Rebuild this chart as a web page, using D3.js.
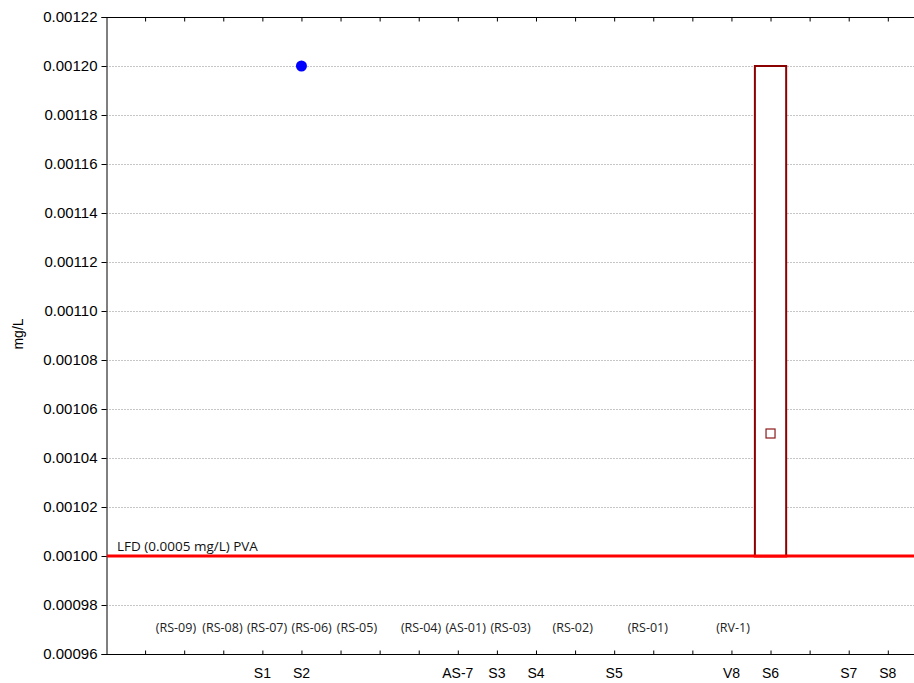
<!DOCTYPE html>
<html>
<head>
<meta charset="utf-8">
<script src="https://cdn.jsdelivr.net/npm/d3@7/dist/d3.min.js"></script>
<style>
  html, body { margin: 0; padding: 0; background: #fff; }
  svg { display: block; }
</style>
</head>
<body>
<svg id="chart" width="914" height="683"></svg>
<script>
// Station positions along the sampling transect
const stationNames = ["S1", "S2", "AS-7", "S3", "S4", "S5", "V8", "S6", "S7", "S8"];
const stationPos = [4, 5, 9, 10, 11, 13, 16, 17, 19, 20];
const xTickValues = [1, 2, 3, 4, 5, 6, 7, 8, 9, 10, 11, 12, 13, 14, 15, 16, 17, 18, 19, 20];

// Sample codes written under the stations
const sampleNames = ["(RS-09)", "(RS-08)", "(RS-07)", "(RS-06)", "(RS-05)", "(RS-04)", "(AS-01)", "(RS-03)", "(RS-02)", "(RS-01)", "(RV-1)"];
const samplePos = [1.79, 2.98, 4.12, 5.26, 6.42, 8.06, 9.20, 10.35, 11.94, 13.86, 16.04];
const sampleLabelValue = 0.000969;

// Single measurements
const pointStations = ["S2"];
const pointValues = [0.0012];

// Range (min–max) with mean
const boxStations = ["S6"];
const boxMin = [0.0010];
const boxMax = [0.0012];
const boxMean = [0.00105];

// Detection limit line
const limitValue = 0.0010;
const limitLabel = "LFD (0.0005 mg/L) PVA";

const yTicks = [0.00096, 0.00098, 0.00100, 0.00102, 0.00104, 0.00106, 0.00108, 0.00110,
                0.00112, 0.00114, 0.00116, 0.00118, 0.00120, 0.00122];
const yLabel = "mg/L";

const W = 914, H = 683;
const plotLeft = 106, plotTop = 17, plotBottom = 654;
const step = 39.09;

const svg = d3.select("#chart");
const x = d3.scaleLinear().domain([0, 21]).range([plotLeft, plotLeft + step * 21]);
const y = d3.scaleLinear().domain([0.00096, 0.00122]).range([plotBottom, plotTop]);
const posOf = name => stationPos[stationNames.indexOf(name)];

// Horizontal grid
svg.append("g")
  .selectAll("line")
  .data(yTicks.slice(1, -1))
  .join("line")
  .attr("x1", plotLeft).attr("x2", W)
  .attr("y1", d => Math.round(y(d)) + 0.5).attr("y2", d => Math.round(y(d)) + 0.5)
  .attr("stroke", "#c6c6c6")
  .attr("stroke-width", 1)
  .attr("stroke-dasharray", "2,1");

// Axes
const yAxis = d3.axisLeft(y).tickValues(yTicks).tickFormat(d3.format(".5f")).tickSize(5).tickPadding(4);
const gy = svg.append("g").attr("transform", `translate(${plotLeft + 0.5},0)`).call(yAxis);
gy.select(".domain").attr("stroke", "#000");
gy.selectAll("text").attr("font-family", "Arial, 'Liberation Sans', sans-serif").attr("font-size", 15).attr("fill", "#000");
gy.selectAll("line").attr("stroke", "#000");

const xAxisBottom = d3.axisBottom(x).tickValues(xTickValues).tickSizeInner(-4).tickSizeOuter(0).tickFormat("");
const gxb = svg.append("g").attr("transform", `translate(0,${plotBottom + 0.5})`).call(xAxisBottom);
gxb.select(".domain").attr("d", `M${plotLeft},0H${W}`).attr("stroke", "#000");
gxb.selectAll("line").attr("stroke", "#000");

const xAxisTop = d3.axisTop(x).tickValues(xTickValues).tickSizeInner(-4).tickSizeOuter(0).tickFormat("");
const gxt = svg.append("g").attr("transform", `translate(0,${plotTop + 0.5})`).call(xAxisTop);
gxt.select(".domain").attr("d", `M${plotLeft},0H${W}`).attr("stroke", "#000");
gxt.selectAll("line").attr("stroke", "#000");

// Station labels
svg.append("g")
  .selectAll("text")
  .data(stationNames)
  .join("text")
  .attr("x", (d, i) => x(stationPos[i]))
  .attr("y", 678)
  .attr("text-anchor", "middle")
  .attr("font-family", "Arial, 'Liberation Sans', sans-serif")
  .attr("font-size", 14)
  .attr("fill", "#000")
  .text(d => d);

// Y axis title
svg.append("text")
  .attr("transform", `translate(23,334) rotate(-90)`)
  .attr("text-anchor", "middle")
  .attr("font-family", "Arial, 'Liberation Sans', sans-serif")
  .attr("font-size", 14)
  .attr("fill", "#000")
  .text(yLabel);

// Sample codes
svg.append("g")
  .selectAll("text")
  .data(sampleNames)
  .join("text")
  .attr("x", (d, i) => x(samplePos[i]))
  .attr("y", y(sampleLabelValue))
  .attr("text-anchor", "middle")
  .attr("font-family", "'Open Sans', sans-serif")
  .attr("font-size", 12.5)
  .attr("fill", "#222")
  .text(d => d);

// Detection limit
svg.append("line")
  .attr("x1", plotLeft + 1).attr("x2", W)
  .attr("y1", y(limitValue)).attr("y2", y(limitValue))
  .attr("stroke", "#ff0000")
  .attr("stroke-width", 3);
svg.append("text")
  .attr("x", x(0.28))
  .attr("y", y(limitValue) - 5)
  .attr("font-family", "'Open Sans', sans-serif")
  .attr("font-size", 13.5)
  .attr("fill", "#111")
  .text(limitLabel);

// Range box with mean marker
const boxW = 0.8;
const boxes = boxStations.map((s, i) => ({ pos: posOf(s), lo: boxMin[i], hi: boxMax[i], mean: boxMean[i] }));
const gb = svg.append("g");
gb.selectAll("rect.range")
  .data(boxes)
  .join("rect")
  .attr("class", "range")
  .attr("x", d => x(d.pos - boxW / 2))
  .attr("width", d => x(d.pos + boxW / 2) - x(d.pos - boxW / 2))
  .attr("y", d => y(d.hi))
  .attr("height", d => y(d.lo) - y(d.hi))
  .attr("fill", "#fff")
  .attr("stroke", "#8b0000")
  .attr("stroke-width", 2);
gb.selectAll("rect.mean")
  .data(boxes)
  .join("rect")
  .attr("class", "mean")
  .attr("x", d => x(d.pos) - 4.5)
  .attr("y", d => y(d.mean) - 4.5)
  .attr("width", 9).attr("height", 9)
  .attr("fill", "#fff")
  .attr("stroke", "#8b1a1a")
  .attr("stroke-width", 1.2);

// Redraw the limit line over the box bottom edge
svg.append("line")
  .attr("x1", x(posOf("S6") - boxW / 2) - 1).attr("x2", x(posOf("S6") + boxW / 2) + 1)
  .attr("y1", y(limitValue)).attr("y2", y(limitValue))
  .attr("stroke", "#ff0000")
  .attr("stroke-width", 3);

// Single measurements
svg.append("g")
  .selectAll("circle")
  .data(pointStations)
  .join("circle")
  .attr("cx", (d, i) => x(posOf(d)))
  .attr("cy", (d, i) => y(pointValues[i]))
  .attr("r", 5.5)
  .attr("fill", "#0000ff");
</script>
</body>
</html>
